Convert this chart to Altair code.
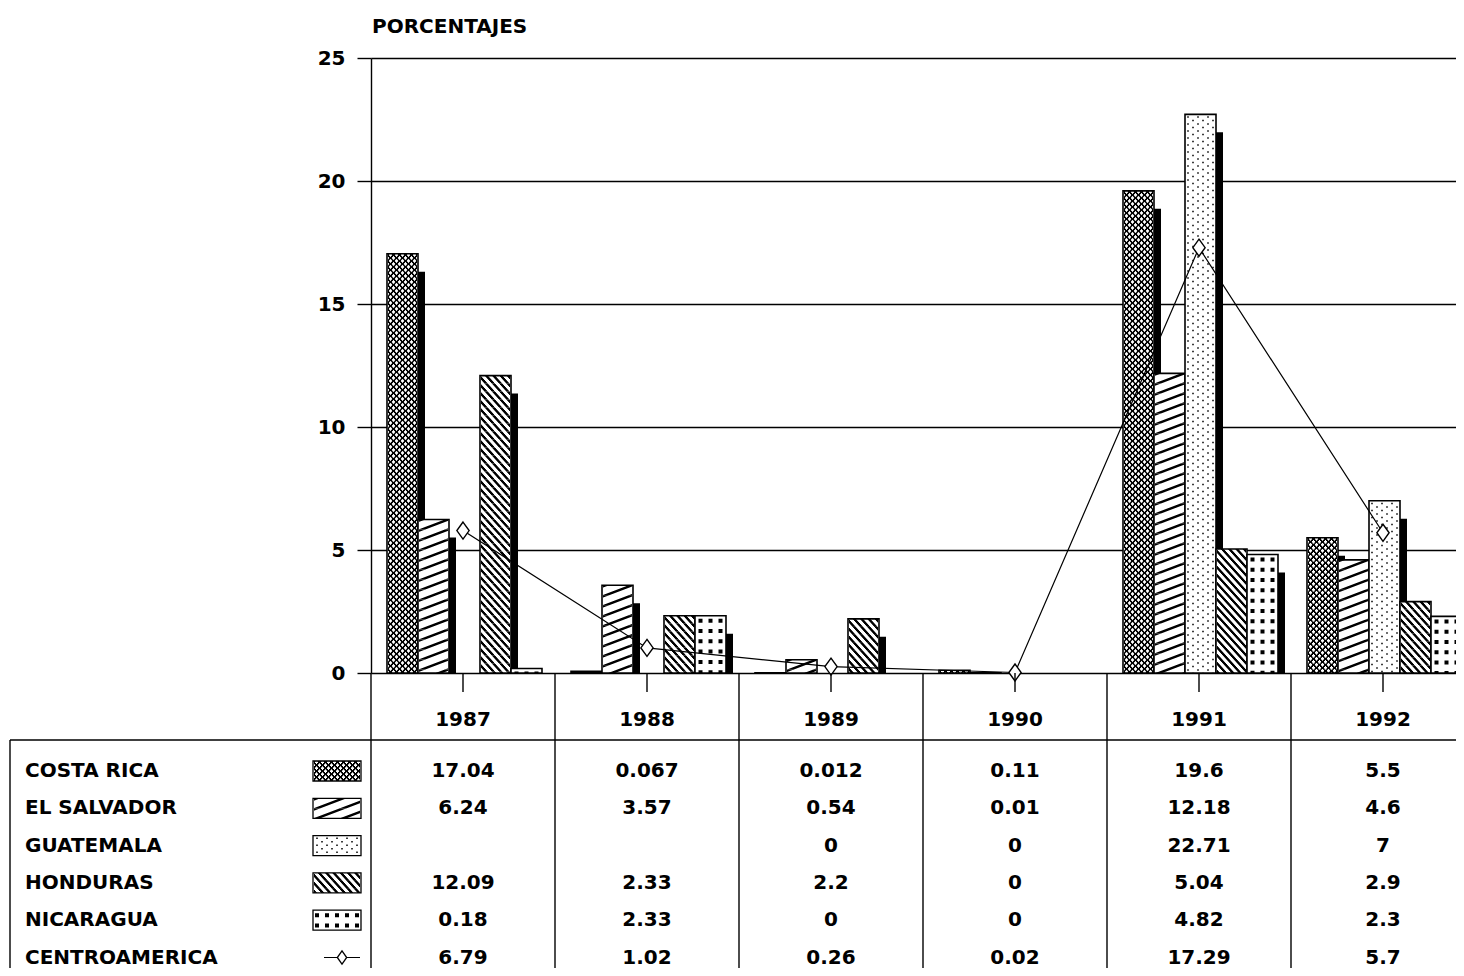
import altair as alt
import pandas as pd

# ---------------- data ----------------
YEARS = ["1987", "1988", "1989", "1990", "1991", "1992"]
COUNTRIES = ["COSTA RICA", "EL SALVADOR", "GUATEMALA", "HONDURAS", "NICARAGUA"]
LINE_NAME = "CENTROAMERICA"
TITLE = "PORCENTAJES"
Y_TICKS = [0, 5, 10, 15, 20, 25]

# bar heights as drawn
COSTA_RICA = [17.04, 0.067, 0.012, 0.11, 19.6, 5.5]
EL_SALVADOR = [6.24, 3.57, 0.54, 0.01, 12.18, 4.6]
GUATEMALA = [None, None, 0, 0, 22.71, 7]
HONDURAS = [12.09, 2.33, 2.2, 0, 5.04, 2.9]
NICARAGUA = [0.18, 2.33, 0, 0, 4.82, 2.3]
# line as drawn (diamonds)
CENTROAMERICA = [5.79, 1.02, 0.26, 0.02, 17.29, 5.7]

# printed table below the chart
TXT_COSTA_RICA = ["17.04", "0.067", "0.012", "0.11", "19.6", "5.5"]
TXT_EL_SALVADOR = ["6.24", "3.57", "0.54", "0.01", "12.18", "4.6"]
TXT_GUATEMALA = ["", "", "0", "0", "22.71", "7"]
TXT_HONDURAS = ["12.09", "2.33", "2.2", "0", "5.04", "2.9"]
TXT_NICARAGUA = ["0.18", "2.33", "0", "0", "4.82", "2.3"]
TXT_CENTROAMERICA = ["6.79", "1.02", "0.26", "0.02", "17.29", "5.7"]

SERIES = [COSTA_RICA, EL_SALVADOR, GUATEMALA, HONDURAS, NICARAGUA]
TABLE = [TXT_COSTA_RICA, TXT_EL_SALVADOR, TXT_GUATEMALA, TXT_HONDURAS,
         TXT_NICARAGUA, TXT_CENTROAMERICA]
ROW_NAMES = COUNTRIES + [LINE_NAME]

# ---------------- layout / style ----------------
FONT = "DejaVu Sans"
FS = 20
W, H = 1085, 615
BAND = 184
BAR_W = 31
SHADOW_DX = 7
SHADOW_DY = 0.73          # in value units (~18 px)
YEAR_Y = 662
ROW_Y = [713 + 37.3 * i for i in range(6)]
TABLE_TOP = H
HLINE_Y = 682
BOTTOM = 910
LEFT = -361
NAME_X = -346
SW_X0, SW_W, SW_H = -58, 48, 20
DIAMOND = "M0,-1L0.72,0L0,1L-0.72,0Z"


def dash_array(intervals, P):
    segs = []
    for a, L in intervals:
        a = a % P
        b = a + L
        if b <= P:
            segs.append((a, b))
        else:
            segs.append((a, P))
            segs.append((0.0, b - P))
    segs.sort()
    merged = []
    for a, b in segs:
        if merged and a <= merged[-1][1]:
            merged[-1] = (merged[-1][0], max(merged[-1][1], b))
        else:
            merged.append((a, b))
    arr, cur = [], 0.0
    for a, b in merged:
        if not arr:
            if a > 0:
                arr += [0.0, a]
        else:
            arr.append(a - cur)
        arr.append(b - a)
        cur = b
    arr.append(P - cur)
    return [round(v, 2) for v in arr]


def line_cols(width, slopes, P, t):
    cols = []
    for j in range(1, width - 1):
        iv = [((s * j) % P, t) for s in slopes]
        cols.append((j + 0.5, 1, dash_array(iv, P)))
    return cols


def dot_cols(width, spacing, dot_w, dot_h, P, phase, stagger):
    n = int((width - 2 - dot_w) // spacing) + 1
    first = (width - (n - 1) * spacing) / 2
    cols = []
    for i in range(n):
        ph = phase + (stagger if i % 2 else 0)
        cols.append((first + i * spacing, dot_w, dash_array([(ph, dot_h)], P)))
    return cols


def texture(k, width):
    if k == 0:
        return line_cols(width, [1, -1], 6, 2.3)
    if k == 1:
        return line_cols(width, [-0.38], 10, 2.6)
    if k == 2:
        return dot_cols(width, 5, 1.5, 1.5, 7, 2, 3.5)
    if k == 3:
        return line_cols(width, [1.1], 8, 3.5)
    return dot_cols(width, 10, 4, 4, 10.3, 3, 0)


X = alt.X("year:N", scale=alt.Scale(domain=YEARS, range=[0, 6 * BAND],
                                    paddingInner=0, paddingOuter=0), axis=None)
XEDGE = alt.X("year:N", bandPosition=0,
              scale=alt.Scale(domain=YEARS, range=[0, 6 * BAND],
                              paddingInner=0, paddingOuter=0), axis=None)
YSCALE = alt.Scale(domain=[0, 25], nice=False)
YAXIS = alt.Axis(values=Y_TICKS, title=None, grid=True, gridColor="black",
                 gridWidth=1.4, domainColor="black", domainWidth=1.4,
                 tickColor="black", tickSize=14, tickWidth=1.4,
                 labelFont=FONT, labelFontWeight="bold", labelFontSize=FS,
                 labelColor="black", labelPadding=12)


def Yf(field):
    return alt.Y(field, type="quantitative", scale=YSCALE, axis=YAXIS)


layers = []

country_dfs = []
for k, vals in enumerate(SERIES):
    rows = [{"year": YEARS[i], "v": v, "st": max(v - SHADOW_DY, 0)}
            for i, v in enumerate(vals) if v is not None and v > 0]
    country_dfs.append(pd.DataFrame(rows))

# shadows
for k, df in enumerate(country_dfs):
    off = (k - 2) * BAR_W + 1.5
    layers.append(alt.Chart(df).transform_filter("datum.st > 0").mark_bar(
        width=BAR_W, xOffset=off + SHADOW_DX, color="black"
    ).encode(x=X, y=Yf("st")))

# bars + textures
for k, df in enumerate(country_dfs):
    off = (k - 2) * BAR_W + 1.5
    layers.append(alt.Chart(df).mark_bar(
        width=BAR_W, xOffset=off, fill="white", stroke="black", strokeWidth=1.6
    ).encode(x=X, y=Yf("v")))
    for c, sw, dash in texture(k, BAR_W):
        layers.append(alt.Chart(df).mark_rule(
            xOffset=off - BAR_W / 2 + c, strokeDash=dash, strokeWidth=sw,
            color="black"
        ).encode(x=X, y=Yf("v"), y2=alt.datum(0)))

# line
line_df = pd.DataFrame({"year": YEARS, "v": CENTROAMERICA})
layers.append(alt.Chart(line_df).mark_line(color="black", strokeWidth=1.2)
              .encode(x=X, y=Yf("v")))
layers.append(alt.Chart(line_df).mark_point(
    shape=DIAMOND, size=290, filled=True, fill="white", stroke="black",
    strokeWidth=1.4, opacity=1).encode(x=X, y=Yf("v")))

# title
one = pd.DataFrame({"t": [TITLE]})
layers.append(alt.Chart(one).mark_text(
    align="left", baseline="middle", font=FONT, fontWeight="bold",
    fontSize=FS, color="black").encode(
    text="t:N", x=alt.value(1), y=alt.value(-31)))

# table grid
year_df = pd.DataFrame({"year": YEARS})
layers.append(alt.Chart(year_df).mark_rule(color="black", strokeWidth=1.4).encode(
    x=XEDGE, y=alt.value(TABLE_TOP), y2=alt.value(BOTTOM)))
layers.append(alt.Chart(year_df).mark_rule(color="black", strokeWidth=1.4).encode(
    x=X, y=alt.value(TABLE_TOP), y2=alt.value(TABLE_TOP + 19)))
layers.append(alt.Chart(one).mark_rule(color="black", strokeWidth=1.4).encode(
    x=alt.value(LEFT), x2=alt.value(W), y=alt.value(HLINE_Y)))
layers.append(alt.Chart(one).mark_rule(color="black", strokeWidth=1.4).encode(
    x=alt.value(LEFT), y=alt.value(HLINE_Y), y2=alt.value(BOTTOM)))

# year labels
layers.append(alt.Chart(year_df).mark_text(
    baseline="middle", font=FONT, fontWeight="bold", fontSize=FS, color="black"
).encode(x=X, y=alt.value(YEAR_Y), text="year:N"))

# table values
for i, txt in enumerate(TABLE):
    df = pd.DataFrame({"year": YEARS, "t": txt})
    df = df[df["t"] != ""]
    layers.append(alt.Chart(df).mark_text(
        baseline="middle", font=FONT, fontWeight="bold", fontSize=FS,
        color="black").encode(x=X, y=alt.value(ROW_Y[i]), text="t:N"))

# row names
names_df = pd.DataFrame({"name": ROW_NAMES, "py": ROW_Y})
layers.append(alt.Chart(names_df).mark_text(
    align="left", baseline="middle", font=FONT, fontWeight="bold",
    fontSize=FS, color="black").encode(
    x=alt.value(NAME_X), y=alt.Y("py:Q", scale=None), text="name:N"))

# swatches
sw_rects = pd.DataFrame({
    "x": [SW_X0] * 5, "x2": [SW_X0 + SW_W] * 5,
    "y": [ROW_Y[k] - SW_H / 2 for k in range(5)],
    "y2": [ROW_Y[k] + SW_H / 2 for k in range(5)]})
layers.append(alt.Chart(sw_rects).mark_rect(
    fill="white", stroke="black", strokeWidth=1.3).encode(
    x=alt.X("x:Q", scale=None), x2="x2:Q",
    y=alt.Y("y:Q", scale=None), y2="y2:Q"))
sw_rows = []
for k in range(5):
    top = ROW_Y[k] - SW_H / 2
    for c, sw, dash in texture(k, SW_W):
        sw_rows.append({"x": SW_X0 + c, "y": top, "y2": top + SW_H,
                        "dash": ",".join(str(d) for d in dash), "sw": sw})
sw_df = pd.DataFrame(sw_rows)
layers.append(alt.Chart(sw_df).mark_rule(color="black").encode(
    x=alt.X("x:Q", scale=None), y=alt.Y("y:Q", scale=None), y2="y2:Q",
    strokeDash=alt.StrokeDash("dash:N", scale=None),
    strokeWidth=alt.StrokeWidth("sw:Q", scale=None)))

# line legend
layers.append(alt.Chart(one).mark_rule(color="black", strokeWidth=1.2).encode(
    x=alt.value(-47), x2=alt.value(-11), y=alt.value(ROW_Y[5])))
layers.append(alt.Chart(one).mark_point(
    shape=DIAMOND, size=170, filled=True, fill="white", stroke="black",
    strokeWidth=1.3, opacity=1).encode(x=alt.value(-29), y=alt.value(ROW_Y[5])))

chart = alt.layer(*layers).properties(
    width=W, height=H,
    autosize=alt.AutoSizeParams(type="none"),
    padding={"left": 363, "top": 50, "right": 0, "bottom": 295},
).configure_view(stroke=None)

chart.save("out.html", embed_options={"renderer": "svg", "actions": False})
